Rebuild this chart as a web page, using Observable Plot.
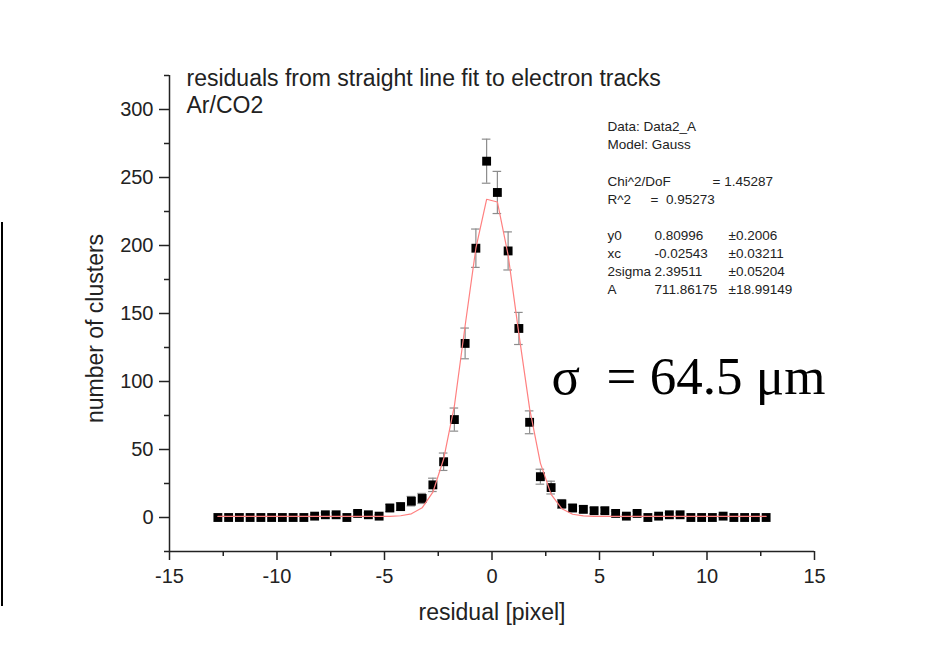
<!DOCTYPE html>
<html>
<head>
<meta charset="utf-8">
<script src="https://cdn.jsdelivr.net/npm/d3@7"></script>
<script src="https://cdn.jsdelivr.net/npm/@observablehq/plot@0.6"></script>
<style>
  html, body { margin: 0; padding: 0; background: #fff; }
  #wrap { position: relative; width: 942px; height: 657px; }
  #edge { position: absolute; left: 1px; top: 222px; width: 2px; height: 384px; background: #000; }
</style>
</head>
<body>
<div id="wrap"><div id="edge"></div></div>
<script>
// bin centres (residual, pixel)
const residual = [-12.75,-12.25,-11.75,-11.25,-10.75,-10.25,-9.75,-9.25,-8.75,-8.25,-7.75,-7.25,-6.75,-6.25,-5.75,-5.25,-4.75,-4.25,-3.75,-3.25,-2.75,-2.25,-1.75,-1.25,-0.75,-0.25,0.25,0.75,1.25,1.75,2.25,2.75,3.25,3.75,4.25,4.75,5.25,5.75,6.25,6.75,7.25,7.75,8.25,8.75,9.25,9.75,10.25,10.75,11.25,11.75,12.25,12.75];
// number of clusters per bin
const clusters = [0,0,0,0,0,0,0,0,0,1,2,2,0,3,2,1,7,8,12,14,24,41,72,128,198,262,239,196,139,70,30,22,10,7,6,5,5,3,1,3,0,1,2,2,0,0,0,1,0,0,0,0];
// error bar half-lengths
const errors = [0,0,0,0,0,0,0,0,0,1,1.4,1.4,0,1.7,1.4,1,2.6,2.8,3.5,3.7,4.9,6.4,8.5,11.3,14.1,16.2,15.5,14,11.8,8.4,5.5,4.7,3.2,2.6,2.4,2.2,2.2,1.7,1,1.7,0,1,1.4,1.4,0,0,0,1,0,0,0,0];
// Gauss fit curve read at the bin centres
const fitCurve = [0.8,0.8,0.8,0.8,0.8,0.8,0.8,0.8,0.8,0.8,0.8,0.8,0.8,0.8,0.8,0.8,0.9,1.3,2.7,7.1,18.6,43,82,141,198,234,232,193,135,80,40,17,6.4,2.4,1.2,0.9,0.8,0.8,0.8,0.8,0.8,0.8,0.8,0.8,0.8,0.8,0.8,0.8,0.8,0.8,0.8,0.8];

const xMajor = [-15,-10,-5,0,5,10,15];
const xMinor = [-12.5,-7.5,-2.5,2.5,7.5,12.5];
const yMajor = [0,50,100,150,200,250,300];
const yMinor = [-25,25,75,125,175,225,275,325];

const titleText = "residuals from straight line fit to electron tracks\nAr/CO2";
const fitCol1 = "Data: Data2_A\nModel: Gauss\n\nChi^2/DoF\nR^2\n\ny0\nxc\n2sigma\nA";
const fitCol2 = "\n\n\n\n\n\n0.80996\n-0.02543\n2.39511\n711.86175";
const fitCol3 = "\n\n\n\n\n\n±0.2006\n±0.03211\n±0.05204\n±18.99149";
const chiCol = "\n\n\n= 1.45287";
const r2Col = "\n\n\n\n=  0.95273";
const sigmaText = "σ\u00a0 = 64.5 μm";

const pts = residual.map((x, i) => ({x, y: clusters[i], e: errors[i]}));
const withErr = pts.filter(d => d.e > 0);
const fit = residual.map((x, i) => ({x, y: fitCurve[i]}));

const gray = "#8c8c8c";
const ink = "#222";
const boxFont = 13.5;
const box = (txt, dx) => Plot.text([txt], {frameAnchor: "top-left", textAnchor: "start", lineAnchor: "top", dx, dy: 43, fontSize: boxFont, lineHeight: 1.34, fill: ink});

const chart = Plot.plot({
  width: 942,
  height: 657,
  marginLeft: 169,
  marginRight: 128,
  marginTop: 75,
  marginBottom: 106,
  style: {fontFamily: "'Liberation Sans', Arial, sans-serif", fontSize: "20px", color: ink, background: "#fff", overflow: "visible"},
  x: {domain: [-15, 15]},
  y: {domain: [-25, 325]},
  marks: [
    Plot.axisX({ticks: xMajor, tickSize: 9, tickPadding: 8, label: null, tickFormat: d => String(d), strokeWidth: 1.5}),
    Plot.axisX({ticks: xMinor, tickSize: 5, text: null, label: null, strokeWidth: 1.5}),
    Plot.axisY({ticks: yMajor, tickSize: 10, tickPadding: 6, label: null, tickFormat: d => String(d), strokeWidth: 1.5}),
    Plot.axisY({ticks: yMinor, tickSize: 5, text: null, label: null, strokeWidth: 1.5}),
    Plot.ruleX([-15], {y1: -25, y2: 325, stroke: ink, strokeWidth: 1.5}),
    Plot.ruleY([-25], {x1: -15, x2: 15, stroke: ink, strokeWidth: 1.5}),
    // error bars
    Plot.ruleX(withErr, {x: "x", y1: d => d.y - d.e, y2: d => d.y + d.e, stroke: gray, strokeWidth: 1.2}),
    Plot.ruleY(withErr, {y: d => d.y + d.e, x1: d => d.x - 0.2, x2: d => d.x + 0.2, stroke: gray, strokeWidth: 1.2}),
    Plot.ruleY(withErr, {y: d => d.y - d.e, x1: d => d.x - 0.2, x2: d => d.x + 0.2, stroke: gray, strokeWidth: 1.2}),
    // data squares
    Plot.dot(pts, {x: "x", y: "y", symbol: "square", r: 5, fill: "#000", stroke: "none"}),
    // fit curve
    Plot.line(fit, {x: "x", y: "y", stroke: "#ff8080", strokeWidth: 1.2}),
    // axis titles
    Plot.text(["number of clusters"], {frameAnchor: "left", textAnchor: "middle", lineAnchor: "middle", rotate: -90, dx: -74, dy: 15, fontSize: 23, fill: ink}),
    Plot.text(["residual [pixel]"], {frameAnchor: "bottom", textAnchor: "middle", lineAnchor: "middle", dy: 61, fontSize: 23, fill: ink}),
    // title
    Plot.text([titleText], {frameAnchor: "top-left", textAnchor: "start", lineAnchor: "top", dx: 17, dy: -9, fontSize: 23, lineHeight: 1.17, fill: ink}),
    // fit parameters box
    box(fitCol1, 438),
    box(fitCol2, 485),
    box(fitCol3, 559),
    box(chiCol, 543),
    box(r2Col, 481),
    // sigma annotation
    Plot.text([sigmaText], {frameAnchor: "top-left", textAnchor: "start", lineAnchor: "middle", dx: 382, dy: 302, fontSize: 53, fontFamily: "'Liberation Serif', 'Times New Roman', serif", fill: "#000"})
  ]
});
document.getElementById("wrap").appendChild(chart);
</script>
</body>
</html>
